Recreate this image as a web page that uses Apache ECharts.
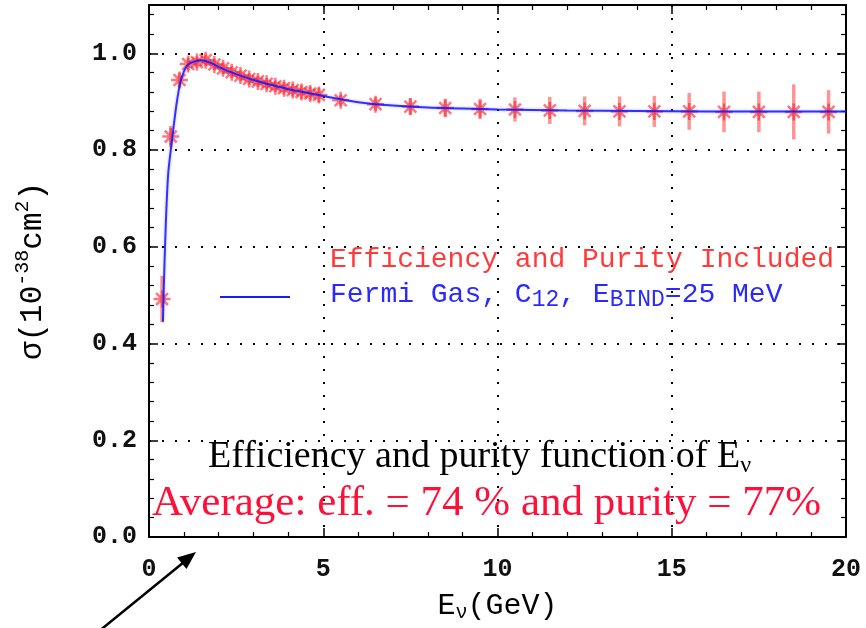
<!DOCTYPE html>
<html>
<head>
<meta charset="utf-8">
<script src="https://cdn.jsdelivr.net/npm/echarts@6/dist/echarts.min.js"></script>
<style>
  html, body { margin: 0; padding: 0; background: #fff; }
  #chart { width: 866px; height: 628px; }
</style>
</head>
<body>
<div id="chart"></div>
<script>
// Measured cross section per energy bin (efficiency and purity included)
const energyBins = [0.375, 0.625, 0.875, 1.125, 1.375, 1.625, 1.875, 2.125, 2.375, 2.625,
  2.875, 3.125, 3.375, 3.625, 3.875, 4.125, 4.375, 4.625, 4.875,
  5.5, 6.5, 7.5, 8.5, 9.5, 10.5, 11.5, 12.5, 13.5, 14.5, 15.5, 16.5, 17.5, 18.5, 19.5];
const sigmaMeasured = [0.492, 0.828, 0.945, 0.978, 0.982, 0.986, 0.977, 0.969, 0.961, 0.954,
  0.947, 0.942, 0.937, 0.932, 0.928, 0.924, 0.920, 0.917, 0.914,
  0.903, 0.895, 0.890, 0.887, 0.885, 0.884, 0.882, 0.881, 0.880, 0.880, 0.880, 0.879, 0.879, 0.879, 0.879];
const sigmaError = [0.048, 0.022, 0.015, 0.013, 0.012, 0.012, 0.012, 0.012, 0.012, 0.012,
  0.012, 0.012, 0.012, 0.012, 0.013, 0.013, 0.014, 0.014, 0.015,
  0.012, 0.014, 0.017, 0.019, 0.021, 0.025, 0.028, 0.030, 0.031, 0.032, 0.038, 0.042, 0.042, 0.057, 0.045];

// Fermi gas model prediction, C12 with 25 MeV binding energy
const modelEnergy = [0.4, 0.43, 0.46, 0.5, 0.55, 0.6, 0.65, 0.7, 0.8, 0.9, 1.0, 1.1, 1.25, 1.5, 1.75,
  2.0, 2.5, 3.0, 3.5, 4.0, 4.5, 5.0, 6.0, 7.0, 8.0, 9.0, 10, 12, 14, 16, 18, 20];
const modelSigma = [0.445, 0.53, 0.60, 0.68, 0.75, 0.785, 0.815, 0.845, 0.90, 0.94, 0.962, 0.975, 0.982, 0.986, 0.981,
  0.972, 0.957, 0.945, 0.935, 0.926, 0.919, 0.912, 0.899, 0.892, 0.888, 0.886, 0.884, 0.882, 0.881, 0.880, 0.880, 0.880];

const xTicks = { min: 0, max: 20, interval: 5 };
const yTicks = { min: 0, max: 1.1, interval: 0.2 };

const measuredPoints = energyBins.map((e, i) => [e, sigmaMeasured[i], sigmaError[i]]);
const modelPoints = modelEnergy.map((e, i) => [e, modelSigma[i]]);

const MONO = '"Liberation Mono", "DejaVu Sans Mono", monospace';
const SERIF = '"Liberation Serif", "DejaVu Serif", serif';

const asterisk = 'path://M10,0L10,20M0,10L20,10M3,3L17,17M3,17L17,3M7,7L13,7L13,13L7,13Z';

function axisBase(extra) {
  return Object.assign({
    type: 'value',
    axisLine: { show: true, onZero: false, lineStyle: { color: '#000', width: 2 } },
    axisTick: { show: true, inside: true, length: 9, lineStyle: { color: '#000', width: 1.5 } },
    minorTick: { show: true, splitNumber: 5, length: 5, lineStyle: { color: '#000', width: 1.2 } },
    minorSplitLine: { show: false }
  }, extra);
}

const chart = echarts.init(document.getElementById('chart'), null, { renderer: 'canvas' });

chart.setOption({
  backgroundColor: '#fff',
  animation: false,
  grid: { left: 149, right: 20, top: 5, bottom: 88 },
  xAxis: [
    axisBase({
      min: xTicks.min, max: xTicks.max, interval: xTicks.interval,
      position: 'bottom',
      splitLine: { show: true, lineStyle: { color: '#000', width: 2, type: [2, 11] } },
      axisLabel: { fontFamily: MONO, fontSize: 25, fontWeight: 'bold', color: '#111', margin: 20 },
      name: '{m|E}{s|ν}{m|(GeV)}',
      nameLocation: 'middle', nameGap: 52,
      nameTextStyle: { rich: {
        m: { fontFamily: MONO, fontSize: 30, color: '#000', lineHeight: 34 },
        s: { fontFamily: MONO, fontSize: 20, color: '#000', verticalAlign: 'bottom', lineHeight: 26 }
      } }
    }),
    axisBase({
      min: xTicks.min, max: xTicks.max, interval: xTicks.interval,
      position: 'top',
      splitLine: { show: false }, axisLabel: { show: false }
    })
  ],
  yAxis: [
    axisBase({
      min: yTicks.min, max: yTicks.max, interval: yTicks.interval,
      position: 'left',
      splitLine: { show: true, lineStyle: { color: '#000', width: 2, type: [2, 11] } },
      axisLabel: { fontFamily: MONO, fontSize: 25, fontWeight: 'bold', color: '#111', margin: 12,
        formatter: v => v.toFixed(1), showMaxLabel: false },
      name: '{m|σ(10}{p|-38}{m|cm}{p|2}{m|)}',
      nameLocation: 'middle', nameGap: 96, nameRotate: 90,
      nameTextStyle: { rich: {
        m: { fontFamily: MONO, fontSize: 31, color: '#000', lineHeight: 40 },
        p: { fontFamily: MONO, fontSize: 20, color: '#000', verticalAlign: 'top', lineHeight: 26 }
      } }
    }),
    axisBase({
      min: yTicks.min, max: yTicks.max, interval: yTicks.interval,
      position: 'right',
      splitLine: { show: false }, axisLabel: { show: false }
    })
  ],
  series: [
    {
      name: 'Error bars',
      type: 'custom',
      xAxisIndex: 0, yAxisIndex: 0,
      data: measuredPoints,
      z: 3,
      renderItem: function (params, api) {
        const x = api.value(0), y = api.value(1), e = api.value(2);
        const lo = api.coord([x, y - e]);
        const hi = api.coord([x, y + e]);
        return {
          type: 'line',
          shape: { x1: lo[0], y1: lo[1], x2: hi[0], y2: hi[1] },
          style: { stroke: 'rgba(255,60,60,0.55)', lineWidth: 3.5 }
        };
      }
    },
    {
      name: 'Efficiency and Purity Included',
      type: 'scatter',
      xAxisIndex: 0, yAxisIndex: 0,
      data: measuredPoints.map(p => [p[0], p[1]]),
      symbol: asterisk,
      symbolSize: 17,
      z: 4,
      itemStyle: { color: 'rgba(0,0,0,0)', borderColor: 'rgba(255,30,40,0.75)', borderWidth: 2.5 }
    },
    {
      name: 'Fermi Gas',
      type: 'line',
      xAxisIndex: 0, yAxisIndex: 0,
      data: modelPoints,
      smooth: 0.3,
      showSymbol: false,
      z: 5,
      lineStyle: { color: 'rgba(20,20,255,0.85)', width: 2,
        shadowColor: 'rgba(80,80,255,0.45)', shadowBlur: 3 }
    }
  ],
  graphic: [
    {
      type: 'line', z: 10,
      shape: { x1: 220, y1: 297, x2: 290, y2: 297 },
      style: { stroke: '#1a1aff', lineWidth: 2 }
    },
    {
      type: 'text', z: 10, left: 330, top: 246,
      style: { text: 'Efficiency and Purity Included', fontFamily: MONO, fontSize: 28, fill: '#ff3a3a' }
    },
    {
      type: 'text', z: 10, left: 330, top: 281,
      style: {
        text: '{m|Fermi Gas, C}{s|12}{m|, E}{s|BIND}{m|=25 MeV}',
        rich: {
          m: { fontFamily: MONO, fontSize: 28, fill: '#2a2aff', lineHeight: 32 },
          s: { fontFamily: MONO, fontSize: 23, fill: '#2a2aff', verticalAlign: 'bottom', lineHeight: 24 }
        }
      }
    },
    {
      type: 'text', z: 10, left: 208, top: 438,
      style: {
        text: '{m|Efficiency and purity function of E}{s|ν}',
        rich: {
          m: { fontFamily: SERIF, fontSize: 38, fill: '#000', lineHeight: 42 },
          s: { fontFamily: SERIF, fontSize: 24, fill: '#000', verticalAlign: 'bottom', lineHeight: 28 }
        }
      }
    },
    {
      type: 'text', z: 10, left: 152, top: 482,
      style: { text: 'Average: eff. = 74 % and purity = 77%', fontFamily: SERIF, fontSize: 43, fill: '#ff1038' }
    },
    // Arrow pointing at the low-energy peak
    {
      type: 'line', z: 10,
      shape: { x1: 98, y1: 632, x2: 184, y2: 562 },
      style: { stroke: '#000', lineWidth: 2.5 }
    },
    {
      type: 'polygon', z: 10,
      shape: { points: [[196, 552], [186.5, 569], [177, 557.5]] },
      style: { fill: '#000' }
    }
  ]
});
</script>
</body>
</html>
